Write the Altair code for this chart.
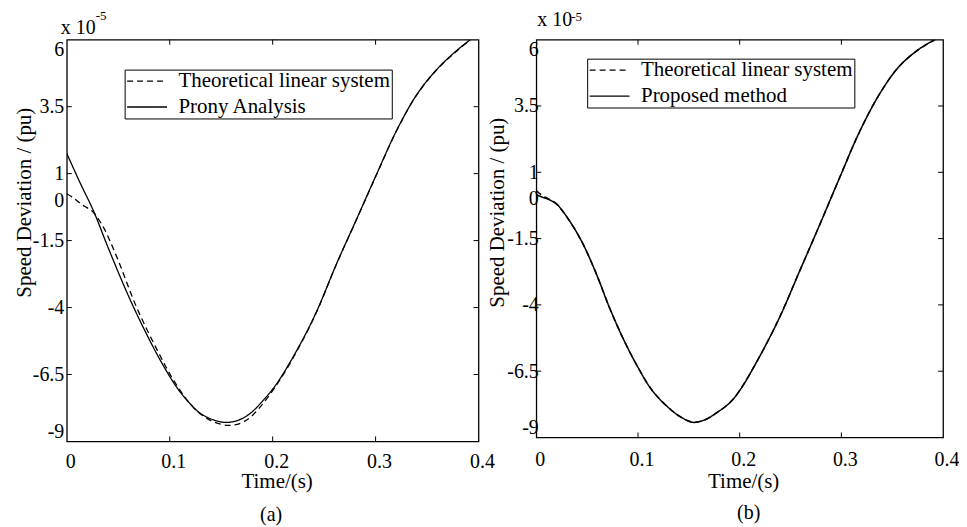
import altair as alt
import pandas as pd

FONT = "Liberation Serif"

# ---------------- data (units of 1e-5 pu) ----------------
a_theory_t = [0, 0.007, 0.014, 0.02, 0.026, 0.031, 0.036, 0.049, 0.068, 0.088, 0.104, 0.123,
              0.14, 0.157, 0.17, 0.181, 0.204, 0.227, 0.243, 0.262, 0.282, 0.301, 0.32, 0.34,
              0.359, 0.378, 0.392]
a_theory_v = [0.25, 0.08, -0.14, -0.28, -0.45, -0.72, -1.03, -2.15, -4.01, -5.6, -6.73, -7.73,
              -8.22, -8.4, -8.3, -8.0, -6.88, -5.38, -4.14, -2.38, -0.67, 0.97, 2.57, 3.94,
              4.86, 5.55, 6.0]
a_prony_t = [0, 0.013, 0.026, 0.04, 0.059, 0.075, 0.091, 0.107, 0.12, 0.13, 0.143, 0.155,
             0.167, 0.178, 0.19, 0.204, 0.227, 0.243, 0.262, 0.282, 0.301, 0.32, 0.34, 0.359,
             0.378, 0.392]
a_prony_v = [1.75, 0.65, -0.4, -1.75, -3.49, -4.8, -5.98, -6.99, -7.6, -7.96, -8.2, -8.29,
             -8.2, -7.96, -7.5, -6.84, -5.35, -4.12, -2.37, -0.66, 0.98, 2.58, 3.95, 4.87,
             5.57, 6.0]

b_theory_t = [0, 0.006, 0.013, 0.02, 0.026, 0.036, 0.046, 0.059, 0.072, 0.085, 0.098, 0.114,
              0.131, 0.143, 0.154, 0.166, 0.178, 0.19, 0.2, 0.219, 0.239, 0.259, 0.279, 0.298,
              0.318, 0.338, 0.357, 0.377, 0.392]
b_theory_v = [0.3, 0.12, -0.02, -0.2, -0.47, -1.03, -1.71, -2.83, -4.11, -5.24, -6.22, -7.23,
              -7.91, -8.25, -8.42, -8.33, -8.05, -7.7, -7.23, -5.99, -4.49, -2.72, -0.95, 0.77,
              2.54, 3.98, 5.0, 5.66, 6.0]
b_method_t = [0, 0.006, 0.013, 0.02, 0.026, 0.036, 0.046, 0.059, 0.072, 0.085, 0.098, 0.114,
              0.131, 0.143, 0.154, 0.166, 0.178, 0.19, 0.2, 0.219, 0.239, 0.259, 0.279, 0.298,
              0.318, 0.338, 0.357, 0.377, 0.392]
b_method_v = [0.15, 0.06, -0.04, -0.2, -0.47, -1.03, -1.71, -2.83, -4.11, -5.24, -6.22, -7.23,
              -7.91, -8.25, -8.43, -8.33, -8.05, -7.7, -7.23, -5.99, -4.49, -2.72, -0.95, 0.77,
              2.54, 3.98, 5.0, 5.66, 6.0]

theory_name = "Theoretical linear system"
a_name = "Prony Analysis"
b_name = "Proposed method"

x_tick_vals = [0, 0.1, 0.2, 0.3, 0.4]
x_inner_ticks = [0.1, 0.2, 0.3]
y_label_vals = [6, 3.5, 1, 0, -1.5, -4, -6.5, -9]
y_inner_ticks = [3.5, 1, -1.5, -4, -6.5]
x_title = "Time/(s)"
y_title = "Speed Deviation / (pu)"
exp_base = "x 10"
exp_power = "-5"


def make_df(t1, v1, n1, t2, v2, n2):
    d1 = pd.DataFrame({"t": t1, "v": v1, "series": n1})
    d2 = pd.DataFrame({"t": t2, "v": v2, "series": n2})
    return pd.concat([d1, d2], ignore_index=True)


def panel(df, method_name, W, H, lx, ly, ylab_pad, xlab_pad, ytx, yty, xtx, xty,
          base_pos, pow_pos, base_size, pow_size, sub_label, sub_pos, lw):
    xs = alt.Scale(domain=[0, 0.4], nice=False, zero=False)
    ys = alt.Scale(domain=[-9, 6], nice=False, zero=False)
    x_axis = alt.Axis(values=x_tick_vals, labelExpr="'' + datum.value", title=x_title,
                      ticks=False, domain=False, grid=False, labelFlush=False,
                      labelOverlap=False, labelPadding=xlab_pad, translate=4,
                      labelFont=FONT, labelFontSize=20, labelColor="black",
                      titleFont=FONT, titleFontSize=21, titleFontWeight="normal",
                      titleColor="black", titleX=xtx, titleY=xty,
                      titleBaseline="alphabetic", titleAlign="center")
    y_axis = alt.Axis(values=y_label_vals, labelExpr="'' + datum.value", title=y_title,
                      ticks=False, domain=False, grid=False, labelFlush=True,
                      labelOverlap=False, labelPadding=ylab_pad,
                      labelFont=FONT, labelFontSize=20, labelColor="black",
                      titleFont=FONT, titleFontSize=21, titleFontWeight="normal",
                      titleColor="black", titleX=ytx, titleY=yty, titleAngle=270,
                      titleBaseline="alphabetic", titleAlign="center")
    legend = alt.Legend(orient="none", legendX=lx, legendY=ly, title=None,
                        symbolType="M-1.8,0H6.2", symbolSize=100, symbolStrokeWidth=1.3,
                        symbolStrokeColor="black", labelFont=FONT, labelFontSize=21,
                        labelColor="black", labelOffset=32, labelLimit=400, padding=1,
                        rowPadding=4, strokeColor="black", fillColor="white")
    lines = alt.Chart(df).mark_line(color="black", strokeWidth=lw,
                                    interpolate="catmull-rom", clip=True).encode(
        x=alt.X("t:Q", scale=xs, axis=x_axis),
        y=alt.Y("v:Q", scale=ys, axis=y_axis),
        strokeDash=alt.StrokeDash("series:N", legend=legend,
                                  scale=alt.Scale(domain=[theory_name, method_name],
                                                  range=[[6, 4], [1, 0]])),
        order=alt.Order("t:Q"),
    )
    xt = pd.DataFrame({"t": x_inner_ticks})
    yt = pd.DataFrame({"v": y_inner_ticks})
    tick_bottom = alt.Chart(xt).mark_rule(color="black", strokeWidth=1).encode(
        x="t:Q", y=alt.value(H), y2=alt.value(H - 5))
    tick_top = alt.Chart(xt).mark_rule(color="black", strokeWidth=1).encode(
        x="t:Q", y=alt.value(0), y2=alt.value(5))
    tick_left = alt.Chart(yt).mark_rule(color="black", strokeWidth=1).encode(
        y="v:Q", x=alt.value(0), x2=alt.value(5))
    tick_right = alt.Chart(yt).mark_rule(color="black", strokeWidth=1).encode(
        y="v:Q", x=alt.value(W - 5), x2=alt.value(W))
    base = alt.Chart(pd.DataFrame({"s": [exp_base]})).mark_text(
        align="left", baseline="alphabetic", font=FONT, fontSize=base_size, color="black"
    ).encode(text="s:N", x=alt.value(base_pos[0]), y=alt.value(base_pos[1]))
    power = alt.Chart(pd.DataFrame({"s": [exp_power]})).mark_text(
        align="left", baseline="alphabetic", font=FONT, fontSize=pow_size, color="black"
    ).encode(text="s:N", x=alt.value(pow_pos[0]), y=alt.value(pow_pos[1]))
    sub = alt.Chart(pd.DataFrame({"s": [sub_label]})).mark_text(
        align="center", baseline="middle", font=FONT, fontSize=20, color="black"
    ).encode(text="s:N", x=alt.value(sub_pos[0]), y=alt.value(sub_pos[1]))
    return alt.layer(lines, tick_bottom, tick_top, tick_left, tick_right, base, power, sub
                     ).properties(width=W, height=H)


df_a = make_df(a_theory_t, a_theory_v, theory_name, a_prony_t, a_prony_v, a_name)
df_b = make_df(b_theory_t, b_theory_v, theory_name, b_method_t, b_method_v, b_name)

pa = panel(df_a, a_name, 413, 403, lx=58, ly=30, ylab_pad=3, xlab_pad=7,
           ytx=-36, yty=163, xtx=207, xty=43,
           base_pos=(-6, -6), pow_pos=(29, -20), base_size=20, pow_size=13,
           sub_label="(a)", sub_pos=(205, 477), lw=1.3)
pb = panel(df_b, b_name, 408, 399, lx=51, ly=19, ylab_pad=-2, xlab_pad=9,
           ytx=-33, yty=173, xtx=204, xty=47,
           base_pos=(1, -14), pow_pos=(35, -19), base_size=20, pow_size=13,
           sub_label="(b)", sub_pos=(213, 475), lw=1.5)

chart = alt.hconcat(pa, pb, spacing=58, bounds="flush").resolve_scale(
    strokeDash="independent", x="independent", y="independent"
).resolve_legend(strokeDash="independent").properties(
    padding={"left": 5, "top": 0, "right": 2, "bottom": 0}, background="white"
).configure_view(stroke="black", strokeWidth=1.3)

chart.save("out.html", embed_options={"renderer": "svg", "actions": False})
